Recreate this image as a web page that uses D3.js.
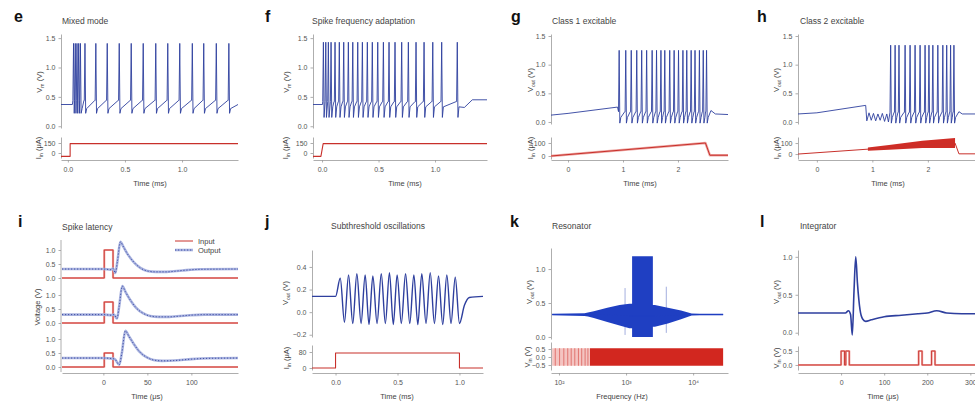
<!DOCTYPE html>
<html>
<head>
<meta charset="utf-8">
<script src="https://cdn.jsdelivr.net/npm/d3@7"></script>
<style>
  body { margin: 0; background: #fff; }
  svg { font-family: "Liberation Sans", Arial, sans-serif; }
  .ax .tick text { fill: #555; font-size: 7px; }
  .ax .domain, .ax .tick line { stroke: #999; stroke-width: 0.8; }
  .letter { font-size: 16px; font-weight: bold; fill: #111; }
  .ttl { font-size: 8.5px; fill: #444; }
  .alab { font-size: 7.5px; fill: #444; }
  .trace { fill: none; stroke-linejoin: round; }
</style>
</head>
<body>
<svg id="fig" width="975" height="402"></svg>
<script>
// values (time ms / us, voltage V, current uA)

// e  mixed mode
var eSpikeT = [0.05, 0.065, 0.08, 0.095, 0.11, 0.15, 0.245, 0.345, 0.45, 0.555, 0.66, 0.77, 0.875, 0.98, 1.09, 1.19, 1.30, 1.41]
var eLevels = [1.41, 0.22, 0.30, 0.44]   // peak, trough, after spike, threshold
var eVPre = [[-0.06, 0.37], [0.04, 0.37]]
var eVPost = [[1.49, 0.37]]
var eI = [[-0.06, -50], [0.02, -50], [0.02, 140], [1.49, 140]]

// f  spike frequency adaptation
var fSpikeT = [0.012, 0.033, 0.056, 0.080, 0.115, 0.153, 0.192, 0.233, 0.272, 0.316, 0.357, 0.401, 0.445, 0.493, 0.543, 0.593, 0.646, 0.705, 0.764, 0.832, 0.903, 0.980, 1.059, 1.197]
var fLevels = [1.43, 0.15, 0.33, 0.42]
var fVPre = [[-0.08, 0.37], [0.004, 0.37]]
var fVPost = [[1.26, 0.32], [1.33, 0.45], [1.46, 0.45]]
var fI = [[-0.08, -50], [-0.01, -50], [0.01, 140], [1.46, 140]]

// g  class 1 excitable
var gSpikeT = [0.93, 1.05, 1.15, 1.25, 1.34, 1.43, 1.53, 1.61, 1.69, 1.76, 1.85, 1.93, 2.01, 2.09, 2.16, 2.24, 2.31, 2.39, 2.46, 2.52]
var gLevels = [1.25, -0.02, 0.08, 0.18]
var gVPre = [[-0.31, 0.12], [0.0, 0.15], [0.9, 0.26]]
var gVPost = [[2.6, 0.2], [2.68, 0.14], [2.91, 0.13]]
var gI = [[-0.31, 0], [2.5, 100], [2.58, 6], [2.91, 6]]

// h  class 2 excitable
var hSpikeT = [1.33, 1.41, 1.48, 1.59, 1.68, 1.77, 1.86, 1.95, 2.02, 2.09, 2.18, 2.27, 2.34, 2.41, 2.47]
var hLevels = [1.34, -0.02, 0.08, 0.17]
var hVPre = [[-0.34, 0.14], [0.0, 0.16], [0.88, 0.29], [0.90, 0.02], [0.94, 0.16], [0.98, 0.03], [1.02, 0.15], [1.06, 0.02],
             [1.10, 0.14], [1.14, 0.03], [1.18, 0.15], [1.22, 0.01], [1.26, 0.14], [1.29, 0.0]]
var hVPost = [[2.56, 0.18], [2.62, 0.14], [3.12, 0.14]]
var hI = [[-0.34, 0], [2.49, 100], [2.56, 2], [3.12, 2]]
var hIBand = [[0.92, 30, 60], [1.3, 38, 82], [1.9, 55, 120], [2.49, 55, 145]]   // t, low, high

// i  spike latency (us)
var iAmp = [1.0, 0.75, 0.5]
var iPulse = [1, 11]
var iOutTop = [[-47, 0.32], [0, 0.32], [8, 0.3], [11, 0.34], [13.6, 0.18], [16, 0.6], [19.3, 1.29], [23, 1.1], [27, 0.88], [34.5, 0.57],
               [42, 0.36], [50, 0.25], [60, 0.22], [72, 0.22], [90, 0.27], [110, 0.31], [153, 0.32]]
var iOutMid = [[-47, 0.30], [0, 0.30], [9, 0.28], [12, 0.3], [15.5, 0.16], [18, 0.6], [21.5, 1.32], [25, 1.12], [30, 0.85], [37, 0.55],
               [45, 0.35], [53, 0.25], [63, 0.22], [75, 0.22], [95, 0.27], [115, 0.30], [153, 0.30]]
var iOutBot = [[-47, 0.32], [0, 0.32], [10, 0.3], [13, 0.28], [18, 0.08], [21, 0.5], [25, 1.29], [29, 1.1], [34, 0.85], [41, 0.55],
               [49, 0.35], [57, 0.25], [67, 0.22], [80, 0.23], [100, 0.28], [120, 0.31], [153, 0.32]]

// j  subthreshold oscillations
var jPeakT = [0.038, 0.105, 0.172, 0.239, 0.301, 0.369, 0.435, 0.497, 0.565, 0.632, 0.696, 0.764, 0.831, 0.898, 0.966]
var jPeakV = [0.30, 0.33, 0.34, 0.33, 0.32, 0.34, 0.35, 0.33, 0.34, 0.33, 0.34, 0.35, 0.32, 0.33, 0.31]
var jTroughT = [0.072, 0.139, 0.206, 0.270, 0.335, 0.402, 0.466, 0.531, 0.599, 0.664, 0.730, 0.798, 0.865, 0.932, 1.0]
var jTroughV = [-0.09, -0.10, -0.10, -0.11, -0.10, -0.10, -0.11, -0.10, -0.10, -0.11, -0.10, -0.10, -0.11, -0.10, -0.10]
var jVPre = [[-0.19, 0.14], [0, 0.14]]
var jVPost = [[1.04, 0.06], [1.08, 0.13], [1.19, 0.14]]
var jI = [[-0.19, 0], [0, 0], [0, 75], [1.0, 75], [1.0, 0], [1.19, 0]]

// k  resonator (Hz) : frequency, upper, lower envelope
var kEnv = [[79, 0.34, 0.32], [240, 0.35, 0.31], [270, 0.36, 0.30], [330, 0.38, 0.28], [525, 0.43, 0.22], [800, 0.47, 0.17],
            [1120, 0.49, 0.13], [1230, 0.49, 0.13], [1230, 1.19, 0.0], [2510, 1.19, 0.0], [2510, 0.47, 0.15], [2690, 0.47, 0.15],
            [4200, 0.43, 0.20], [6600, 0.39, 0.26], [9500, 0.345, 0.315], [12600, 0.34, 0.32], [28000, 0.34, 0.32]]
var kSpikes = [[966, 0.72, 0.03], [3980, 0.74, 0.06]]
var kInLight = [[79, 0.55, -0.55], [290, 0.55, -0.55]]
var kInDense = [[290, 0.55, -0.55], [28000, 0.55, -0.55]]
var kInLines = [88, 102, 118, 135, 152, 172, 195, 218, 245, 270]

// l  integrator (us)
var lOut = [[-100, 0.26], [10, 0.26], [17, 0.29], [22, 0.24], [26, -0.03], [30, 0.55], [34, 1.0], [38, 0.65], [44, 0.3], [50, 0.18],
            [57, 0.15], [70, 0.17], [100, 0.21], [140, 0.23], [180, 0.25], [200, 0.26], [222, 0.29], [245, 0.26], [280, 0.25], [334, 0.25]]
var lPulseT = [0, 11, 180, 210]
var lPulseW = 8
var lPulseV = 0.5

// ---------- drawing ----------
var svg = d3.select("#fig")
var cBlue = "#2e3f9e", cRed = "#c8302b"
var f1 = d3.format(".1f"), fd = d3.format("d")

function yAxis(scale, x, ticks, fmt, noDomain) {
  var g = svg.append("g").attr("class", "ax").attr("transform", "translate(" + x + ",0)")
    .call(d3.axisLeft(scale).tickValues(ticks).tickFormat(fmt).tickSize(2.5).tickSizeOuter(0).tickPadding(3))
  if (noDomain) g.select(".domain").remove()
}
function xAxis(scale, y, ticks, fmt) {
  svg.append("g").attr("class", "ax").attr("transform", "translate(0," + y + ")")
    .call(d3.axisBottom(scale).tickValues(ticks).tickFormat(fmt).tickSize(2.5).tickSizeOuter(0).tickPadding(5))
}
function letter(s, x, y) { svg.append("text").attr("class", "letter").attr("x", x).attr("y", y).text(s) }
function title(s, x, y) { svg.append("text").attr("class", "ttl").attr("x", x).attr("y", y).text(s) }
function xLabel(s, x, y) { svg.append("text").attr("class", "alab").attr("x", x).attr("y", y).attr("text-anchor", "middle").text(s) }
function yLabel(x, y, main, sub, unit) {
  var t = svg.append("text").attr("class", "alab").attr("text-anchor", "middle")
    .attr("transform", "translate(" + x + "," + y + ") rotate(-90)")
  t.append("tspan").text(main)
  if (sub) t.append("tspan").attr("font-size", "5px").attr("dy", 1.5).text(sub)
  t.append("tspan").attr("dy", sub ? -1.5 : 0).text(" " + unit)
}
function trace(x, y, pts, col, w, curve) {
  var line = d3.line().x(function(d) { return x(d[0]) }).y(function(d) { return y(d[1]) })
  if (curve) line.curve(curve)
  return svg.append("path").attr("class", "trace").attr("d", line(pts)).attr("stroke", col).attr("stroke-width", w)
}
function band(x, y, pts, col) {
  var area = d3.area().x(function(d) { return x(d[0]) }).y0(function(d) { return y(d[2]) }).y1(function(d) { return y(d[1]) })
  return svg.append("path").attr("d", area(pts)).attr("fill", col)
}
function spikeTrace(pre, times, post, lv, w) {
  var pts = pre.slice()
  times.forEach(function(t, i) {
    var next = times[i + 1]
    pts.push([t - w, lv[3]], [t, lv[0]], [t + w, lv[1]])
    if (next === undefined || next - t > 5 * w) {
      pts.push([t + 2.5 * w, lv[2]])
      if (next !== undefined) pts.push([next - 1.5 * w, lv[3]])
    }
  })
  return pts.concat(post)
}

// ---- e
var ex = d3.scaleLinear().domain([-0.06, 1.49]).range([61, 238])
var eyV = d3.scaleLinear().domain([-0.03, 1.57]).range([128, 34])
var eyI = d3.scaleLinear().domain([-75, 240]).range([158, 137])
yAxis(eyV, 61, [0, 0.5, 1, 1.5], f1)
yAxis(eyI, 61, [0, 150], fd)
xAxis(ex, 160, [0, 0.5, 1.0], f1)
trace(ex, eyV, spikeTrace(eVPre, eSpikeT, eVPost, eLevels, 0.006), cBlue, 0.9)
trace(ex, eyI, eI, cRed, 1.1)
letter("e", 14, 22); title("Mixed mode", 62, 24); xLabel("Time (ms)", 150, 186)
yLabel(42, 82, "V", "m", "(V)"); yLabel(41, 148, "I", "in", "(μA)")

// ---- f
var fx = d3.scaleLinear().domain([-0.08, 1.46]).range([313, 487])
var fyV = d3.scaleLinear().domain([-0.03, 1.57]).range([128, 34])
var fyI = d3.scaleLinear().domain([-75, 240]).range([158, 137])
yAxis(fyV, 313, [0, 0.5, 1, 1.5], f1)
yAxis(fyI, 313, [0, 150], fd)
xAxis(fx, 160, [0, 0.5, 1.0], f1)
trace(fx, fyV, spikeTrace(fVPre, fSpikeT, fVPost, fLevels, 0.006), cBlue, 0.9)
trace(fx, fyI, fI, cRed, 1.1)
letter("f", 265, 22); title("Spike frequency adaptation", 312, 24); xLabel("Time (ms)", 405, 186)
yLabel(289, 82, "V", "m", "(V)"); yLabel(288, 148, "I", "in", "(μA)")

// ---- g
var gx = d3.scaleLinear().domain([-0.31, 2.91]).range([551, 728])
var gyV = d3.scaleLinear().domain([-0.035, 1.535]).range([124, 34])
var gyI = d3.scaleLinear().domain([-23, 146]).range([159, 137])
yAxis(gyV, 551, [0, 0.5, 1, 1.5], f1)
yAxis(gyI, 551, [0, 100], fd)
xAxis(gx, 160, [0, 1, 2], fd)
trace(gx, gyV, spikeTrace(gVPre, gSpikeT, gVPost, gLevels, 0.012), cBlue, 0.9)
trace(gx, gyI, gI, "#eea7a3", 2.4)
trace(gx, gyI, gI, cRed, 1)
letter("g", 511, 22); title("Class 1 excitable", 552, 24); xLabel("Time (ms)", 640, 186)
yLabel(533, 80, "V", "out", "(V)"); yLabel(533, 148, "I", "in", "(μA)")

// ---- h
var hx = d3.scaleLinear().domain([-0.34, 3.12]).range([798, 990])
var hyV = d3.scaleLinear().domain([-0.035, 1.535]).range([124, 34])
var hyI = d3.scaleLinear().domain([-45, 155]).range([159, 137])
yAxis(hyV, 798, [0, 0.5, 1, 1.5], f1)
yAxis(hyI, 798, [0, 100], fd)
xAxis(hx, 160, [0, 1, 2], fd)
trace(hx, hyV, spikeTrace(hVPre, hSpikeT, hVPost, hLevels, 0.012), cBlue, 0.9)
band(hx, hyI, hIBand, "#cf2d26")
trace(hx, hyI, hI, cRed, 1)
letter("h", 757, 22); title("Class 2 excitable", 800, 24); xLabel("Time (ms)", 888, 186)
yLabel(779, 80, "V", "out", "(V)"); yLabel(779, 148, "I", "in", "(μA)")

// ---- i
var ix = d3.scaleLinear().domain([-47, 153]).range([62, 238])
var iZero = [278, 323, 367]
var iOut = [iOutTop, iOutMid, iOutBot]
svg.append("line").attr("x1", 61).attr("x2", 61).attr("y1", 240).attr("y2", 372).attr("stroke", "#999").attr("stroke-width", 0.8)
iAmp.forEach(function(a, k) {
  var y = d3.scaleLinear().domain([0, 1]).range([iZero[k], iZero[k] - 28])
  yAxis(y, 61, [0, 0.5, 1.0], f1, true)
  var inp = [[-47, 0], [iPulse[0], 0], [iPulse[0], a], [iPulse[1], a], [iPulse[1], 0], [153, 0]]
  trace(ix, y, inp, "#f0aaa6", 2.2)
  trace(ix, y, inp, cRed, 0.9)
  trace(ix, y, iOut[k], "#aab4e0", 2.6, d3.curveMonotoneX)
  trace(ix, y, iOut[k], "#34449e", 0.9, d3.curveMonotoneX).attr("stroke-dasharray", "1.2,1.8")
})
xAxis(ix, 373, [0, 50, 100], fd)
svg.append("line").attr("x1", 175).attr("x2", 193).attr("y1", 241).attr("y2", 241).attr("stroke", cRed).attr("stroke-width", 1)
svg.append("line").attr("x1", 175).attr("x2", 193).attr("y1", 250).attr("y2", 250).attr("stroke", "#aab4e0").attr("stroke-width", 2.6)
svg.append("line").attr("x1", 175).attr("x2", 193).attr("y1", 250).attr("y2", 250).attr("stroke", "#34449e").attr("stroke-width", 0.9).attr("stroke-dasharray", "1.2,1.8")
svg.append("text").attr("class", "alab").attr("x", 198).attr("y", 244).text("Input")
svg.append("text").attr("class", "alab").attr("x", 198).attr("y", 253).text("Output")
letter("i", 18, 227); title("Spike latency", 62, 230); xLabel("Time (μs)", 147, 399)
yLabel(40, 307, "Voltage", null, "(V)")

// ---- j
var jx = d3.scaleLinear().domain([-0.19, 1.19]).range([312, 483])
var jyV = d3.scaleLinear().domain([-0.22, 0.55]).range([337, 250])
var jyI = d3.scaleLinear().domain([-10, 115]).range([370, 345])
var jPts = jVPre.slice()
jPeakT.forEach(function(t, k) { jPts.push([t, jPeakV[k]], [jTroughT[k], jTroughV[k]]) })
jPts = jPts.concat(jVPost)
yAxis(jyV, 312, [-0.2, 0, 0.2, 0.4], f1)
yAxis(jyI, 312, [0, 80], fd)
xAxis(jx, 373, [0, 0.5, 1.0], f1)
trace(jx, jyV, jPts, cBlue, 1.4, d3.curveMonotoneX)
trace(jx, jyI, jI, cRed, 1.1)
letter("j", 265, 227); title("Subthreshold oscillations", 331, 229); xLabel("Time (ms)", 397, 399)
yLabel(288, 293, "V", "out", "(V)"); yLabel(289, 358, "I", "in", "(μA)")

// ---- k
var kx = d3.scaleLog().domain([76, 33100]).range([551, 728])
var kyV = d3.scaleLinear().domain([-0.03, 1.31]).range([339, 248])
var kyIn = d3.scaleLinear().domain([-0.8125, 0.9375]).range([370, 342])
var supers = {100: "10²", 1000: "10³", 10000: "10⁴"}
yAxis(kyV, 551, [0, 0.5, 1.0], f1)
yAxis(kyIn, 551, [-0.5, 0, 0.5], f1)
xAxis(kx, 373, [100, 1000, 10000], function(d) { return supers[d] })
kSpikes.forEach(function(s) {
  trace(kx, kyV, [[s[0], s[1]], [s[0], s[2]]], "#8d9ad6", 0.8)
})
band(kx, kyV, kEnv, "#1f3fc2")
trace(kx, kyV, kEnv.map(function(d) { return [d[0], (d[1] + d[2]) / 2] }).filter(function(d, k) { return k < 8 || k > 10 }), "#1f3fc2", 0.8)
band(kx, kyIn, kInLight, "#f4c4c1")
kInLines.forEach(function(f) { trace(kx, kyIn, [[f, 0.55], [f, -0.55]], "#d9534d", 0.7) })
band(kx, kyIn, kInDense, "#d2271f")
letter("k", 510, 227); title("Resonator", 552, 229); xLabel("Frequency (Hz)", 622, 399)
yLabel(532, 292, "V", "out", "(V)"); yLabel(530, 357, "V", "in", "(V)")

// ---- l
var lx = d3.scaleLinear().domain([-100, 334]).range([798, 985])
var lyV = d3.scaleLinear().domain([-0.03, 1.09]).range([335, 250])
var lyIn = d3.scaleLinear().domain([-0.18, 0.68]).range([370, 346])
var lIn = [[-100, 0]]
lPulseT.forEach(function(t) { lIn.push([t, 0], [t, lPulseV], [t + lPulseW, lPulseV], [t + lPulseW, 0]) })
lIn.push([334, 0])
yAxis(lyV, 798, [0, 0.5, 1.0], f1)
yAxis(lyIn, 798, [0, 0.5], f1)
xAxis(lx, 373, [0, 100, 200, 300], fd)
trace(lx, lyV, lOut, cBlue, 1.6, d3.curveMonotoneX)
trace(lx, lyIn, lIn, "#f0aaa6", 2.2)
trace(lx, lyIn, lIn, cRed, 0.9)
letter("l", 760, 227); title("Integrator", 800, 229); xLabel("Time (μs)", 883, 399)
yLabel(779, 292, "V", "out", "(V)"); yLabel(779, 358, "V", "in", "(V)")
</script>
</body>
</html>
